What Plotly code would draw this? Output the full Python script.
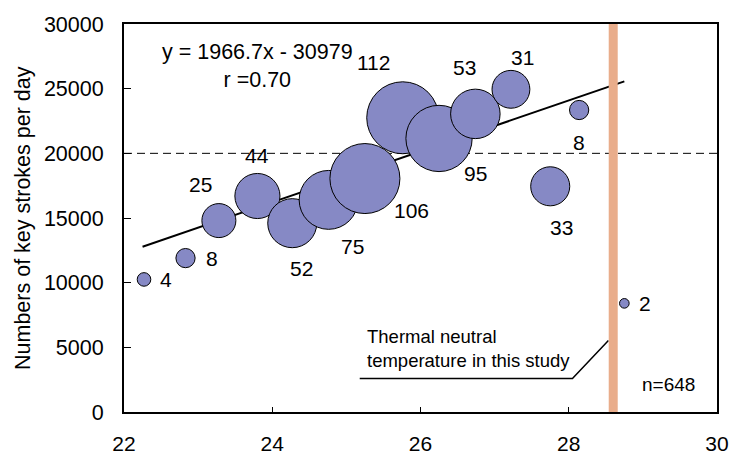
import numpy as np
import plotly.graph_objects as go

# Room temperature bins (deg C), mean key strokes per day and number of samples per bin
temperature = [22.27, 22.83, 23.28, 23.80, 24.27, 24.76, 25.25, 25.76, 26.25, 26.74, 27.22, 27.75, 28.14, 28.75]
keystrokes = [10250, 11900, 14800, 16700, 14600, 16400, 18050, 22750, 21150, 23050, 24950, 17450, 23350, 8400]
counts = [4, 8, 25, 44, 52, 75, 106, 112, 95, 53, 31, 33, 8, 2]

# Linear fit reported on the chart
slope, intercept = 1966.7, -30979
fit_x = [22.25, 28.75]

neutral_temp = 28.6
reference_level = 20000

x_ticks = [22, 24, 26, 28, 30]
y_ticks = [0, 5000, 10000, 15000, 20000, 25000, 30000]

# Pixel offsets of each count label relative to its bubble (dx, dy up-positive)
label_offsets = [(22, 0), (26, 0), (-18, 36), (0, 41), (9, -45), (24, -47), (47, -32),
                 (-29, 55), (36, -35), (-11, 46), (12, 32), (11, -41), (0, -32), (21, 0)]

FONT = "Arial, 'Liberation Sans', sans-serif"
BUBBLE = "#8689C5"
BAND = "#E9AD8B"

fig = go.Figure()

# Regression line
fig.add_trace(go.Scatter(
    x=fit_x, y=[slope * v + intercept for v in fit_x],
    mode="lines", line=dict(color="black", width=2),
    hoverinfo="skip", showlegend=False,
))

# Bubbles: area proportional to sample count
fig.add_trace(go.Scatter(
    x=temperature, y=keystrokes, mode="markers",
    marker=dict(size=[6.8 * np.sqrt(n) for n in counts], sizemode="diameter",
                color=BUBBLE, opacity=1, line=dict(color="black", width=1)),
    showlegend=False,
))

# Leader line for the thermal-neutral note
fig.add_trace(go.Scatter(
    x=[25.18, 28.05, 28.535], y=[2590, 2590, 5530],
    mode="lines", line=dict(color="black", width=1.5),
    hoverinfo="skip", showlegend=False,
))

shapes = [
    dict(type="line", xref="x", yref="y", x0=22, x1=30, y0=reference_level, y1=reference_level,
         line=dict(color="black", width=1, dash="8px,5px"), layer="below"),
    dict(type="line", xref="x", yref="y", x0=neutral_temp, x1=neutral_temp, y0=0, y1=30000,
         line=dict(color=BAND, width=9), layer="above"),
]

annotations = []
for t, k, n, (dx, dy) in zip(temperature, keystrokes, counts, label_offsets):
    annotations.append(dict(
        x=t, y=k, xref="x", yref="y", text=str(n), showarrow=False,
        xshift=dx, yshift=dy, xanchor="center", yanchor="middle",
        font=dict(family=FONT, size=21, color="black"),
    ))

annotations += [
    dict(x=23.80, y=26760, xref="x", yref="y", showarrow=False,
         text="y = 1966.7x - 30979<br>r =0.70", align="center",
         xanchor="center", yanchor="middle",
         font=dict(family=FONT, size=21.5, color="black")),
    dict(x=25.25, y=4890, xref="x", yref="y", showarrow=False,
         text="Thermal neutral<br>temperature in this study", align="left",
         xanchor="left", yanchor="middle",
         font=dict(family=FONT, size=18.5, color="black")),
    dict(x=28.96, y=2130, xref="x", yref="y", showarrow=False,
         text="n=648", xanchor="left", yanchor="middle",
         font=dict(family=FONT, size=19, color="black")),
    dict(x=-0.1703, y=0.5, xref="paper", yref="paper", showarrow=False,
         text="Numbers of key strokes per day", textangle=-90,
         xanchor="center", yanchor="middle",
         font=dict(family=FONT, size=21.5, color="black")),
]

fig.update_layout(
    width=730, height=456,
    margin=dict(l=124, r=13, t=24, b=44, autoexpand=False),
    paper_bgcolor="white", plot_bgcolor="white",
    font=dict(family=FONT, size=21.5, color="black"),
    shapes=shapes, annotations=annotations,
    showlegend=False,
)

fig.update_xaxes(
    range=[22, 30], tickvals=x_ticks, ticktext=[str(v) for v in x_ticks],
    ticks="inside", ticklen=5, tickwidth=1, tickcolor="black",
    showline=True, linewidth=2, linecolor="black", mirror=True,
    showgrid=False, zeroline=False, ticklabelstandoff=12, automargin=False,
    tickfont=dict(family=FONT, size=21, color="black"),
)
fig.update_yaxes(
    range=[0, 30000], tickvals=y_ticks, ticktext=[str(v) for v in y_ticks],
    ticks="inside", ticklen=7, tickwidth=1, tickcolor="black",
    showline=True, linewidth=2, linecolor="black", mirror=True,
    showgrid=False, zeroline=False, ticklabelstandoff=14, automargin=False,
    tickfont=dict(family=FONT, size=21.5, color="black"),
)

fig.write_html("out.html")
